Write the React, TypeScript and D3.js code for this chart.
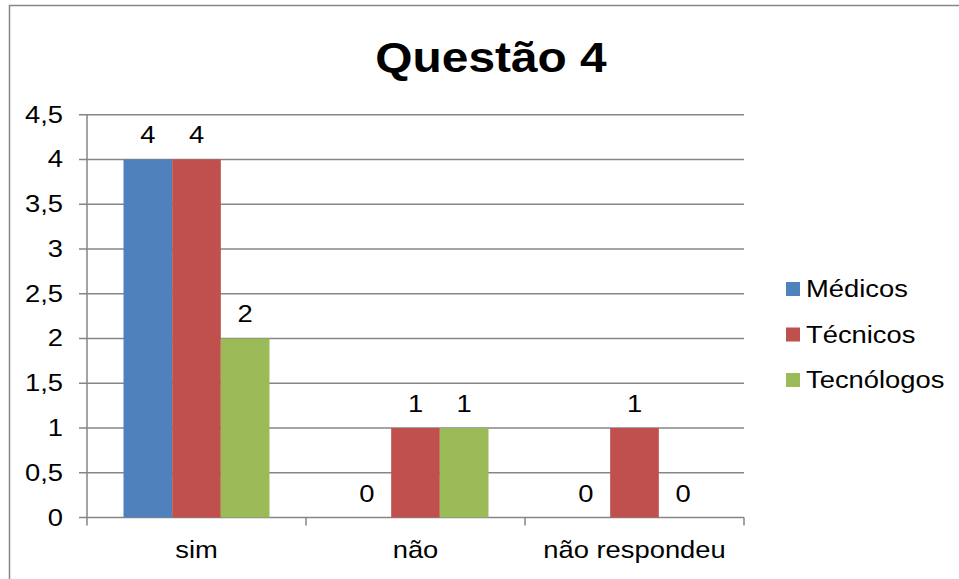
import React from "react";
import * as d3 from "d3";

const CATEGORIES = ["sim", "não", "não respondeu"];
const SERIES = ["Médicos", "Técnicos", "Tecnólogos"];
const COLORS = ["#4F81BD", "#C0504D", "#9BBB59"];
const MEDICOS = [4, 0, 0];
const TECNICOS = [4, 1, 1];
const TECNOLOGOS = [2, 1, 0];
const Y_TICKS = [0, 0.5, 1, 1.5, 2, 2.5, 3, 3.5, 4, 4.5];

const W = 959;
const H = 579;
const FONT = "Arial, 'Liberation Sans', sans-serif";
const STRETCH = 1.14;

function fmt(v: number) {
  return String(v).replace(".", ",");
}

// text stretched horizontally to match the wider glyphs of the original
function T(props: { x: number; y: number; anchor?: string; size?: number; bold?: boolean; children: any }) {
  const { x, y, anchor = "start", size = 24, bold = false, children } = props;
  return (
    <text
      transform={`translate(${x},${y}) scale(${STRETCH},1)`}
      textAnchor={anchor}
      fontFamily={FONT}
      fontSize={size}
      fontWeight={bold ? "bold" : "normal"}
      fill="#000"
    >
      {children}
    </text>
  );
}

const App = () => {
  const left = 87;
  const right = 744;
  const top = 114.7;
  const bottom = 517.5;
  const values = [MEDICOS, TECNICOS, TECNOLOGOS];

  const x0 = d3.scaleBand().domain(CATEGORIES).range([left, right]).paddingInner(0).paddingOuter(0);
  const inner = x0.bandwidth() / 4.5;
  const x1 = d3
    .scaleBand()
    .domain(SERIES)
    .range([inner * 0.75, x0.bandwidth() - inner * 0.75]);
  const y = d3.scaleLinear().domain([0, 4.5]).range([bottom, top]);

  const catTicks = [left, ...CATEGORIES.map((c) => (x0(c) as number) + x0.bandwidth())];

  return (
    <svg width={W} height={H} style={{ position: "absolute", left: 0, top: 0 }}>
      <rect x={0} y={0} width={W} height={H} fill="#fff" />
      <rect x={9.5} y={5.5} width={W + 10} height={H + 10} fill="none" stroke="#868686" strokeWidth={1.5} />
      <T x={491} y={72} anchor="middle" size={42} bold>
        Questão 4
      </T>

      {Y_TICKS.map((t) => (
        <g key={t}>
          <line x1={79} x2={right} y1={y(t)} y2={y(t)} stroke="#868686" strokeWidth={1.5} />
          <T x={63} y={y(t) + 8} anchor="end">
            {fmt(t)}
          </T>
        </g>
      ))}
      <line x1={left} x2={left} y1={top} y2={bottom} stroke="#868686" strokeWidth={1.5} />
      {catTicks.map((cx, i) => (
        <line key={i} x1={cx} x2={cx} y1={bottom} y2={bottom + 8} stroke="#868686" strokeWidth={1.5} />
      ))}

      {CATEGORIES.map((c, ci) => (
        <g key={c} transform={`translate(${x0(c)},0)`}>
          {SERIES.map((s, si) => {
            const v = values[si][ci];
            const bx = x1(s) as number;
            return (
              <g key={s}>
                <rect x={bx} y={y(v)} width={x1.bandwidth()} height={bottom - y(v)} fill={COLORS[si]} />
                <T x={bx + x1.bandwidth() / 2} y={y(v) - 16} anchor="middle">
                  {fmt(v)}
                </T>
              </g>
            );
          })}
          <T x={x0.bandwidth() / 2} y={558} anchor="middle">
            {c}
          </T>
        </g>
      ))}

      {SERIES.map((s, i) => (
        <g key={s} transform={`translate(786,${289 + i * 45.5})`}>
          <rect x={0} y={-7} width={14} height={14} fill={COLORS[i]} />
          <T x={20} y={8}>
            {s}
          </T>
        </g>
      ))}
    </svg>
  );
};

export default App;
